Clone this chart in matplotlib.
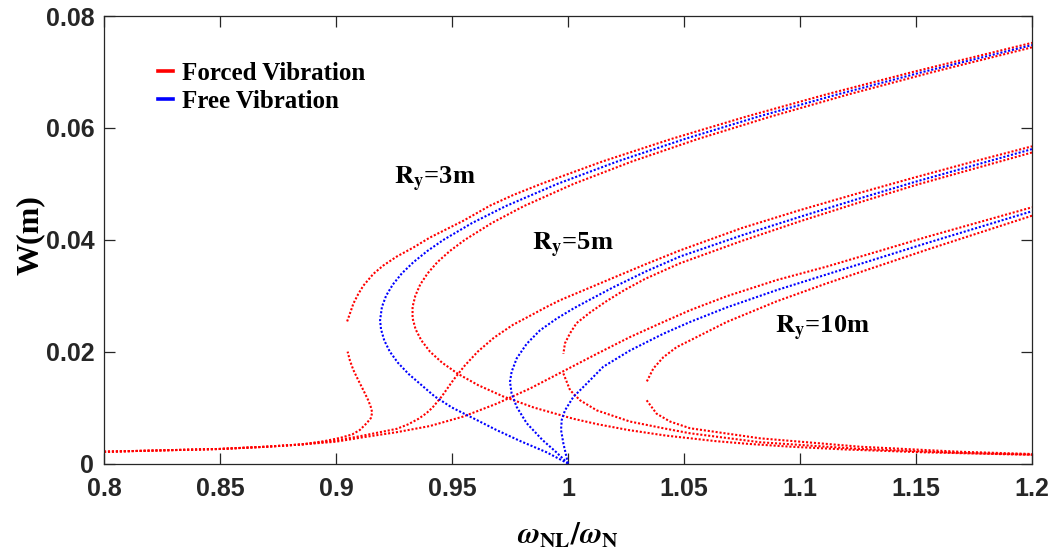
import matplotlib
matplotlib.use("Agg")
import matplotlib.pyplot as plt
from matplotlib.lines import Line2D
from matplotlib.font_manager import FontProperties
from matplotlib.ticker import FixedLocator, FixedFormatter

# ---------------- data ----------------
# Ry = 3 m
l3a_x = [0.800, 0.850, 0.870, 0.885, 0.895, 0.902, 0.907, 0.9103, 0.9132, 0.9150, 0.9156, 0.9150, 0.9139, 0.9118, 0.9096, 0.9075, 0.9060, 0.9050]
l3a_w = [0.0021, 0.0026, 0.0030, 0.0034, 0.0040, 0.0046, 0.0052, 0.0060, 0.0072, 0.0081, 0.0091, 0.0101, 0.0113, 0.0131, 0.0149, 0.0167, 0.0184, 0.0200]
l3b_x = [0.9048, 0.9060, 0.9075, 0.9096, 0.9118, 0.9161, 0.9204, 0.9262, 0.9333, 0.9405, 0.9477, 0.9549, 0.9664, 0.9764, 0.9885, 1.0149, 1.0444, 1.0767, 1.1115, 1.1487, 1.2000]
l3b_w = [0.0254, 0.0268, 0.0286, 0.0303, 0.0318, 0.0339, 0.0354, 0.0370, 0.0386, 0.0404, 0.0419, 0.0434, 0.0461, 0.0480, 0.0500, 0.0540, 0.0580, 0.0620, 0.0660, 0.0700, 0.0752]
b3_x = [1.0000, 0.9908, 0.9795, 0.9691, 0.9596, 0.9500, 0.9425, 0.9369, 0.9313, 0.9267, 0.9232, 0.9208, 0.9194, 0.9190, 0.9198, 0.9216, 0.9245, 0.9284, 0.9334, 0.9394, 0.9464, 0.9587, 0.9731, 0.9955, 1.0213, 1.0502, 1.0819, 1.1163, 1.1530, 1.2000]
b3_w = [0.0000, 0.0020, 0.0040, 0.0060, 0.0080, 0.0100, 0.0120, 0.0140, 0.0160, 0.0180, 0.0200, 0.0220, 0.0240, 0.0256, 0.0280, 0.0300, 0.0320, 0.0340, 0.0360, 0.0380, 0.0400, 0.0430, 0.0460, 0.0500, 0.0540, 0.0580, 0.0620, 0.0660, 0.0700, 0.0748]
r3_x = [1.2000, 1.1574, 1.1210, 1.0872, 1.0559, 1.0276, 1.0025, 0.9809, 0.9672, 0.9556, 0.9491, 0.9437, 0.9395, 0.9363, 0.9342, 0.9330, 0.9330, 0.9343, 0.9368, 0.9405, 0.9458, 0.9527, 0.9613, 0.9720, 0.9853, 1.0023, 1.0130, 1.0258, 1.0420, 1.0636, 1.0780, 1.0960, 1.1200, 1.1535, 1.2000]
r3_w = [0.0744, 0.0700, 0.0660, 0.0620, 0.0580, 0.0540, 0.0500, 0.0460, 0.0430, 0.0400, 0.0380, 0.0360, 0.0340, 0.0320, 0.0300, 0.0280, 0.0260, 0.0240, 0.0220, 0.0200, 0.0180, 0.0160, 0.0140, 0.0120, 0.0100, 0.0080, 0.0070, 0.0060, 0.0050, 0.0040, 0.0035, 0.0030, 0.0025, 0.0020, 0.00155]

# Ry = 5 m
l5_x = [0.800, 0.850, 0.870, 0.885, 0.900, 0.9118, 0.9262, 0.9311, 0.9356, 0.9390, 0.9416, 0.9456, 0.9507, 0.9555, 0.9611, 0.9681, 0.9763, 0.9836, 0.9908, 0.9966, 1.0052, 1.0195, 1.0339, 1.0483, 1.0750, 1.1000, 1.1250, 1.1500, 1.1750, 1.2000]
l5_w = [0.0021, 0.0026, 0.0030, 0.0034, 0.0041, 0.0050, 0.0062, 0.0070, 0.0080, 0.0090, 0.0100, 0.0120, 0.0150, 0.0175, 0.0200, 0.0225, 0.0248, 0.0264, 0.0280, 0.0292, 0.0307, 0.0332, 0.0357, 0.0381, 0.0421, 0.0453, 0.0483, 0.0512, 0.0540, 0.0567]
b5_x = [1.000, 0.9950, 0.9890, 0.9822, 0.9779, 0.9757, 0.9750, 0.9757, 0.9779, 0.9822, 0.9879, 0.9951, 1.0023, 1.0081, 1.0195, 1.0339, 1.0483, 1.0750, 1.1000, 1.1250, 1.1500, 1.1750, 1.2000]
b5_w = [0.0000, 0.0020, 0.0042, 0.0072, 0.0101, 0.0125, 0.0146, 0.0164, 0.0188, 0.0214, 0.0238, 0.0259, 0.0277, 0.0290, 0.0315, 0.0344, 0.0370, 0.0408, 0.0441, 0.0473, 0.0504, 0.0533, 0.0562]
r5a_x = [1.2000, 1.1750, 1.1500, 1.1250, 1.1000, 1.0750, 1.0483, 1.0332, 1.0243, 1.0165, 1.0095, 1.0037, 1.0009, 0.9987, 0.9980]
r5a_w = [0.0556, 0.0527, 0.0498, 0.0466, 0.0433, 0.0398, 0.0358, 0.0330, 0.0310, 0.0290, 0.0270, 0.0251, 0.0233, 0.0215, 0.0196]
r5b_x = [0.9980, 1.0009, 1.0052, 1.0124, 1.0267, 1.0411, 1.0526, 1.0828, 1.1259, 1.1690, 1.2000]
r5b_w = [0.0161, 0.0131, 0.0113, 0.0095, 0.0075, 0.0063, 0.0054, 0.0038, 0.0026, 0.0019, 0.0016]

# Ry = 10 m
l10_x = [0.800, 0.850, 0.870, 0.885, 0.900, 0.9118, 0.9262, 0.9405, 0.9549, 0.9693, 0.9836, 0.9980, 1.0124, 1.0267, 1.0411, 1.0526, 1.0684, 1.0900, 1.1115, 1.1546, 1.2000]
l10_w = [0.0021, 0.0026, 0.0030, 0.0034, 0.0039, 0.0047, 0.0056, 0.0067, 0.0084, 0.0107, 0.0134, 0.0165, 0.0196, 0.0226, 0.0253, 0.0274, 0.0299, 0.0328, 0.0352, 0.0405, 0.0458]
b10_x = [1.000, 0.9980, 0.9970, 0.9973, 0.9987, 1.0023, 1.0081, 1.0152, 1.0267, 1.0411, 1.0526, 1.0684, 1.0900, 1.1115, 1.1546, 1.2000]
b10_w = [0.0000, 0.0036, 0.0060, 0.0078, 0.0095, 0.0119, 0.0143, 0.0173, 0.0202, 0.0232, 0.0253, 0.0279, 0.0310, 0.0338, 0.0394, 0.0451]
r10a_x = [1.2000, 1.1546, 1.1115, 1.0900, 1.0684, 1.0526, 1.0468, 1.0411, 1.0368, 1.0339]
r10a_w = [0.0443, 0.0382, 0.0322, 0.0290, 0.0253, 0.0220, 0.0208, 0.0190, 0.0170, 0.0146]
r10b_x = [1.0339, 1.0382, 1.0440, 1.0526, 1.0828, 1.1259, 1.1690, 1.2000]
r10b_w = [0.0113, 0.0089, 0.0075, 0.0063, 0.0045, 0.0030, 0.0021, 0.0017]

x_ticks = [0.8, 0.85, 0.9, 0.95, 1.0, 1.05, 1.1, 1.15, 1.2]
x_tick_labels = ["0.8", "0.85", "0.9", "0.95", "1", "1.05", "1.1", "1.15", "1.2"]
y_ticks = [0.0, 0.02, 0.04, 0.06, 0.08]
y_tick_labels = ["0", "0.02", "0.04", "0.06", "0.08"]
legend_labels = ["Forced Vibration", "Free Vibration"]
annotations = [("=3m", 0.9250, 0.0499), ("=5m", 0.9844, 0.0381), ("=10m", 1.0892, 0.0232)]

# ---------------- styling ----------------
plt.rcParams["font.family"] = ["Liberation Sans", "DejaVu Sans"]
plt.rcParams["font.weight"] = "bold"
plt.rcParams["mathtext.fontset"] = "stix"

RED = "#ff0000"
BLUE = "#0000ff"
AX_COL = "#262626"
SERIF = ["Liberation Serif", "DejaVu Serif"]

fig = plt.figure(figsize=(10.58, 5.56), dpi=100)
ax = fig.add_axes([104 / 1058, (556 - 463.5) / 556, 928 / 1058, 447.5 / 556])

dot = dict(lw=1.5, linestyle=(0, (1.0, 0.9)))

forced = [(l3a_x, l3a_w), (l3b_x, l3b_w), (r3_x, r3_w),
          (l5_x, l5_w), (r5a_x, r5a_w), (r5b_x, r5b_w),
          (l10_x, l10_w), (r10a_x, r10a_w), (r10b_x, r10b_w)]
free = [(b3_x, b3_w), (b5_x, b5_w), (b10_x, b10_w)]

for xs, ws in forced:
    ax.plot(xs, ws, color=RED, **dot)
for xs, ws in free:
    ax.plot(xs, ws, color=BLUE, **dot)

ax.set_xlim(0.8, 1.2)
ax.set_ylim(0.0, 0.08)
ax.xaxis.set_major_locator(FixedLocator(x_ticks))
ax.xaxis.set_major_formatter(FixedFormatter(x_tick_labels))
ax.yaxis.set_major_locator(FixedLocator(y_ticks))
ax.yaxis.set_major_formatter(FixedFormatter(y_tick_labels))

ax.tick_params(axis="both", direction="in", length=8, width=0.9, colors=AX_COL,
               top=True, right=True, labelsize=18)
ax.tick_params(axis="x", pad=10)
ax.tick_params(axis="y", pad=7)
for lab in ax.get_xticklabels() + ax.get_yticklabels():
    lab.set_fontweight("bold")
for sp in ax.spines.values():
    sp.set_color(AX_COL)
    sp.set_linewidth(0.9)

ax.set_xlabel(r"$\omega_{\mathbf{NL}}/\omega_{\mathbf{N}}$", fontsize=22, color="black")
ax.xaxis.set_label_coords(0.4993, -0.125)
ax.set_ylabel("W(m)", fontsize=23, fontweight="bold", family=SERIF, color="black")
ax.yaxis.set_label_coords(-0.064, 0.511)

for txt, xx, yy in annotations:
    ax.text(xx, yy, r"$\mathbf{R_{y}}$" + txt, fontsize=19, family=SERIF,
            fontweight="bold", ha="left", va="baseline", color="black")

handles = [Line2D([], [], color=RED, lw=2.6), Line2D([], [], color=BLUE, lw=2.6)]
leg = ax.legend(handles, legend_labels, loc="upper left",
                bbox_to_anchor=(0.0582, 0.897), frameon=False,
                handlelength=0.6, handletextpad=0.36, labelspacing=0.2,
                borderpad=0.0, borderaxespad=0.0,
                prop=FontProperties(family=SERIF, weight="bold", size=18))

fig.savefig("out.png", dpi=100)
